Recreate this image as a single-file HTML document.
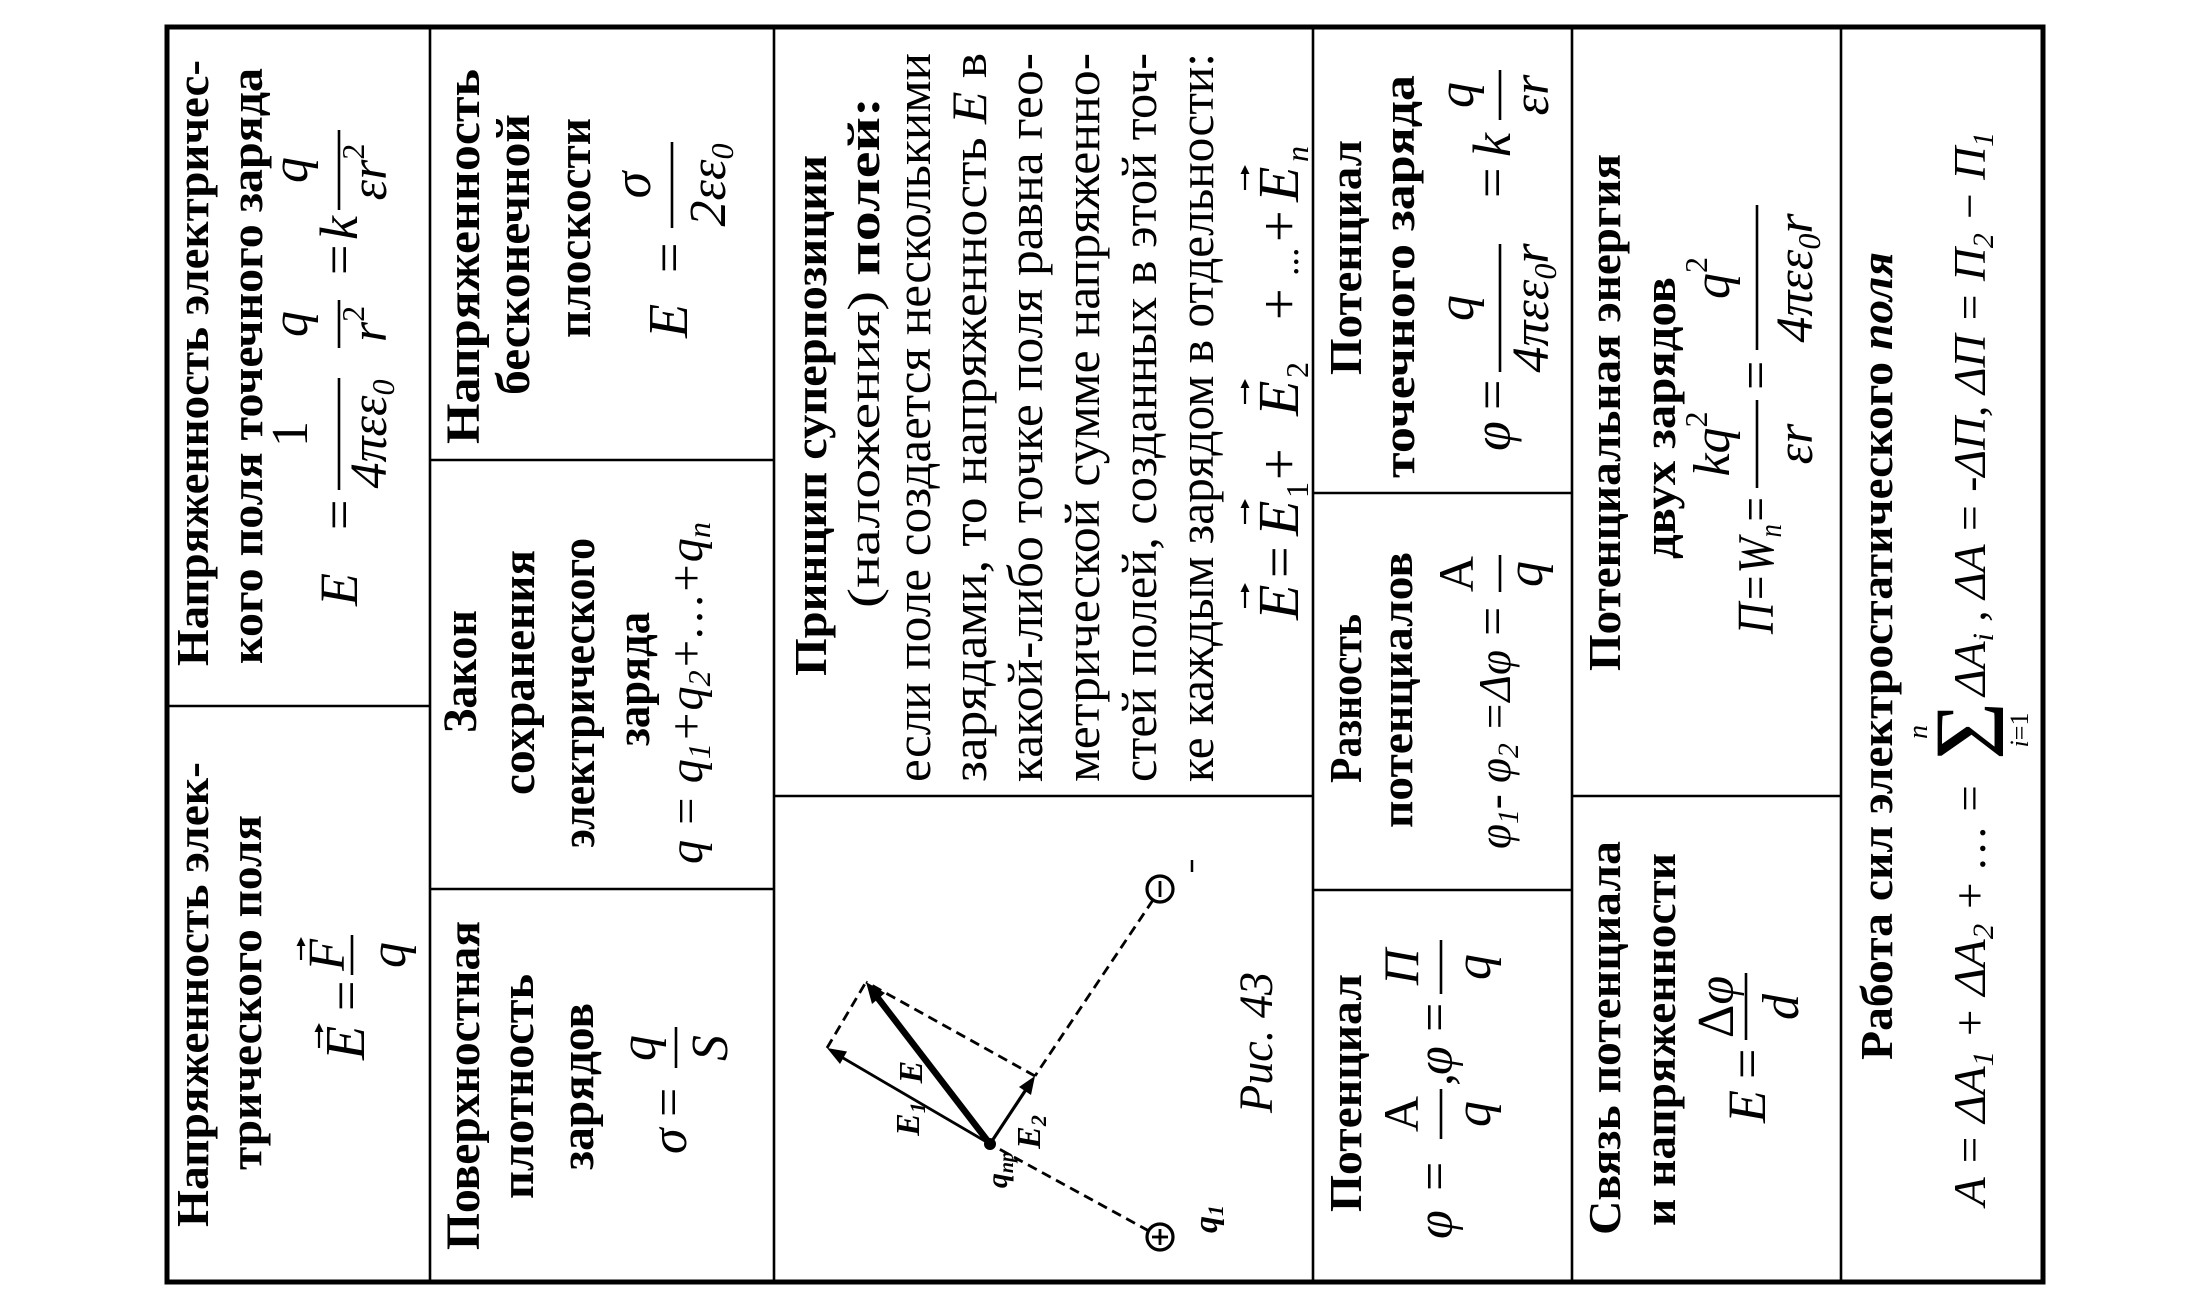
<!DOCTYPE html>
<html>
<head>
<meta charset="utf-8">
<style>
html,body{margin:0;padding:0;background:#fff;}
svg{display:block;}
svg text{font-family:"Liberation Serif","DejaVu Serif",serif;}
</style>
</head>
<body>
<svg width="2200" height="1300" viewBox="0 0 2200 1300" xmlns="http://www.w3.org/2000/svg">
<rect width="2200" height="1300" fill="#fff"/>

<!-- table grid -->
<rect x="167" y="27" width="1876" height="1255" fill="none" stroke="#000" stroke-width="5"/>
<g stroke="#000" stroke-width="2.6">
<line x1="430" y1="27" x2="430" y2="1282"/>
<line x1="774" y1="27" x2="774" y2="1282"/>
<line x1="1313" y1="27" x2="1313" y2="1282"/>
<line x1="1572" y1="27" x2="1572" y2="1282"/>
<line x1="1841" y1="27" x2="1841" y2="1282"/>
<line x1="167" y1="706" x2="430" y2="706"/>
<line x1="430" y1="460" x2="774" y2="460"/>
<line x1="430" y1="889" x2="774" y2="889"/>
<line x1="774" y1="796" x2="1313" y2="796"/>
<line x1="1313" y1="493" x2="1572" y2="493"/>
<line x1="1313" y1="890" x2="1572" y2="890"/>
<line x1="1572" y1="796" x2="1841" y2="796"/>
</g>

<!-- figure (image coords) -->
<g stroke="#000" fill="none">
<g stroke-width="2.8" stroke-dasharray="10 6">
<line x1="1149" y1="1231" x2="990" y2="1144"/>
<line x1="1153" y1="900" x2="1035" y2="1076"/>
<line x1="1035" y1="1076" x2="866" y2="982"/>
<line x1="827" y1="1048" x2="866" y2="982"/>
</g>
<line x1="990" y1="1144" x2="838" y2="1055" stroke-width="2.8"/>
<line x1="990" y1="1144" x2="874" y2="993" stroke-width="6.5"/>
<line x1="990" y1="1144" x2="1029" y2="1085" stroke-width="3.2"/>
<circle cx="1160" cy="1237" r="13" stroke-width="3.2"/>
<line x1="1152" y1="1237" x2="1168" y2="1237" stroke-width="2.8"/>
<line x1="1160" y1="1229" x2="1160" y2="1245" stroke-width="2.8"/>
<circle cx="1160" cy="889" r="13" stroke-width="3.2"/>
<line x1="1160" y1="881" x2="1160" y2="897" stroke-width="2.8"/>
<line x1="1192" y1="860" x2="1192" y2="872" stroke-width="2.5"/>
</g>
<g fill="#000">
<circle cx="990" cy="1144" r="6"/>
<polygon points="827,1048 847,1051.5 840,1064"/>
<polygon points="866,982 885,993 872,1004"/>
<polygon points="1035,1076 1019,1087 1031,1095"/>
</g>

<!-- rotated content: u along text, v across -->
<g transform="translate(167,1282) rotate(-90)" fill="#000">

<!-- Column 1 top -->
<text x="616" y="41" font-size="46" font-weight="bold" textLength="606" lengthAdjust="spacingAndGlyphs">Напряженность электричес-</text>
<text x="618" y="95" font-size="46" font-weight="bold" textLength="596" lengthAdjust="spacingAndGlyphs">кого поля точечного заряда</text>
<text x="676" y="190" font-size="54" font-style="italic">E</text>
<text x="752" y="190" font-size="54">=</text>
<line x1="792" y1="172" x2="904" y2="172" stroke="#000" stroke-width="2.6"/>
<text x="848" y="140" font-size="52" text-anchor="middle">1</text>
<text x="848" y="219" font-size="52" font-style="italic" text-anchor="middle">4πεε<tspan font-size="32" dy="8">0</tspan></text>
<line x1="934" y1="172" x2="982" y2="172" stroke="#000" stroke-width="2.6"/>
<text x="958" y="140" font-size="52" font-style="italic" text-anchor="middle">q</text>
<text x="958" y="219" font-size="52" font-style="italic" text-anchor="middle">r<tspan font-size="32" font-style="normal" dy="-22">2</tspan></text>
<text x="1007" y="190" font-size="54">=</text>
<text x="1042" y="190" font-size="54" font-style="italic">k</text>
<line x1="1072" y1="172" x2="1152" y2="172" stroke="#000" stroke-width="2.6"/>
<text x="1112" y="140" font-size="52" font-style="italic" text-anchor="middle">q</text>
<text x="1110" y="219" font-size="52" font-style="italic" text-anchor="middle">εr<tspan font-size="32" font-style="normal" dy="-22">2</tspan></text>

<!-- Column 1 bottom -->
<text x="55" y="41" font-size="46" font-weight="bold" textLength="465" lengthAdjust="spacingAndGlyphs">Напряженность элек-</text>
<text x="112" y="94" font-size="46" font-weight="bold" textLength="355" lengthAdjust="spacingAndGlyphs">трического поля</text>
<text x="222" y="197" font-size="56" font-style="italic">E</text>
<line x1="234" y1="152" x2="254" y2="152" stroke="#000" stroke-width="2.2"/>
<polygon points="259,152 250,147.5 250,156.5"/>
<text x="271" y="197" font-size="54">=</text>
<line x1="307" y1="185" x2="347" y2="185" stroke="#000" stroke-width="2.6"/>
<text x="327" y="177" font-size="52" font-style="italic" text-anchor="middle">F</text>
<line x1="322" y1="134" x2="340" y2="134" stroke="#000" stroke-width="2.2"/>
<polygon points="345,134 336,129.5 336,138.5"/>
<text x="327" y="238" font-size="52" font-style="italic" text-anchor="middle">q</text>

<!-- Column 2 top -->
<text x="838" y="312" font-size="48" font-weight="bold" textLength="375" lengthAdjust="spacingAndGlyphs">Напряженность</text>
<text x="887" y="362" font-size="48" font-weight="bold" textLength="281" lengthAdjust="spacingAndGlyphs">бесконечной</text>
<text x="944" y="423" font-size="48" font-weight="bold" textLength="220" lengthAdjust="spacingAndGlyphs">плоскости</text>
<text x="944" y="520" font-size="56" font-style="italic">E</text>
<text x="1009" y="520" font-size="54">=</text>
<line x1="1054" y1="505" x2="1140" y2="505" stroke="#000" stroke-width="2.6"/>
<text x="1097" y="483" font-size="54" font-style="italic" text-anchor="middle">σ</text>
<text x="1097" y="558" font-size="52" font-style="italic" text-anchor="middle">2εε<tspan font-size="32" dy="8">0</tspan></text>

<!-- Column 2 middle -->
<text x="549" y="309" font-size="48" font-weight="bold" textLength="123" lengthAdjust="spacingAndGlyphs">Закон</text>
<text x="487" y="367" font-size="48" font-weight="bold" textLength="245" lengthAdjust="spacingAndGlyphs">сохранения</text>
<text x="434" y="427" font-size="48" font-weight="bold" textLength="310" lengthAdjust="spacingAndGlyphs">электрического</text>
<text x="536" y="482" font-size="48" font-weight="bold" textLength="134" lengthAdjust="spacingAndGlyphs">заряда</text>
<text x="418" y="535" font-size="48" font-style="italic" textLength="342" lengthAdjust="spacingAndGlyphs">q = q<tspan dy="8" font-size="32">1</tspan><tspan dy="-8">+q</tspan><tspan dy="8" font-size="32">2</tspan><tspan dy="-8">+…+q</tspan><tspan dy="8" font-size="32">n</tspan></text>

<!-- Column 2 bottom -->
<text x="32" y="312" font-size="48" font-weight="bold" textLength="329" lengthAdjust="spacingAndGlyphs">Поверхностная</text>
<text x="83" y="366" font-size="48" font-weight="bold" textLength="225" lengthAdjust="spacingAndGlyphs">плотность</text>
<text x="112" y="426" font-size="48" font-weight="bold" textLength="167" lengthAdjust="spacingAndGlyphs">зарядов</text>
<text x="128" y="519" font-size="52" font-style="italic">σ</text>
<text x="165" y="519" font-size="52">=</text>
<line x1="214" y1="509" x2="255" y2="509" stroke="#000" stroke-width="2.6"/>
<text x="234" y="488" font-size="52" font-style="italic" text-anchor="middle">q</text>
<text x="234" y="560" font-size="52" font-style="italic" text-anchor="middle">S</text>

<!-- Column 3 top -->
<text x="606" y="659" font-size="46" font-weight="bold" textLength="521" lengthAdjust="spacingAndGlyphs">Принцип суперпозиции</text>
<text x="674" y="712" font-size="46" textLength="511" lengthAdjust="spacingAndGlyphs">(наложения) <tspan font-weight="bold">полей:</tspan></text>
<text x="500" y="763" font-size="50" textLength="729" lengthAdjust="spacingAndGlyphs">если поле создается несколькими</text>
<text x="500" y="819" font-size="50" textLength="729" lengthAdjust="spacingAndGlyphs">зарядами, то напряженность <tspan font-style="italic">E</tspan> в</text>
<text x="500" y="875" font-size="50" textLength="729" lengthAdjust="spacingAndGlyphs">какой-либо точке поля равна гео-</text>
<text x="500" y="932" font-size="50" textLength="729" lengthAdjust="spacingAndGlyphs">метрической сумме напряженно-</text>
<text x="500" y="989" font-size="50" textLength="729" lengthAdjust="spacingAndGlyphs">стей полей, созданных в этой точ-</text>
<text x="500" y="1046" font-size="50" textLength="729" lengthAdjust="spacingAndGlyphs">ке каждым зарядом в отдельности:</text>

<text x="662" y="1131" font-size="58" font-style="italic">E</text>
<line x1="674" y1="1078" x2="694" y2="1078" stroke="#000" stroke-width="2.2"/>
<polygon points="699,1078 690,1073.5 690,1082.5"/>
<text x="704" y="1131" font-size="56">=</text>
<text x="746" y="1131" font-size="58" font-style="italic">E</text>
<text x="784" y="1141" font-size="32">1</text>
<line x1="758" y1="1078" x2="778" y2="1078" stroke="#000" stroke-width="2.2"/>
<polygon points="783,1078 774,1073.5 774,1082.5"/>
<text x="802" y="1131" font-size="56">+</text>
<text x="866" y="1131" font-size="58" font-style="italic">E</text>
<text x="904" y="1141" font-size="32">2</text>
<line x1="878" y1="1078" x2="898" y2="1078" stroke="#000" stroke-width="2.2"/>
<polygon points="903,1078 894,1073.5 894,1082.5"/>
<text x="962" y="1131" font-size="56">+</text>
<text x="1006" y="1131" font-size="38">...</text>
<text x="1040" y="1131" font-size="56">+</text>
<text x="1080" y="1131" font-size="58" font-style="italic">E</text>
<text x="1120" y="1141" font-size="32" font-style="italic">n</text>
<line x1="1092" y1="1078" x2="1112" y2="1078" stroke="#000" stroke-width="2.2"/>
<polygon points="1117,1078 1108,1073.5 1108,1082.5"/>

<!-- figure labels -->
<text x="169" y="1105" font-size="48" font-style="italic" textLength="141" lengthAdjust="spacingAndGlyphs">Рис. 43</text>
<text x="163" y="752" font-size="34" font-weight="bold" font-style="italic" text-anchor="middle">E<tspan font-size="22" dy="6">1</tspan></text>
<text x="210" y="755" font-size="34" font-weight="bold" font-style="italic" text-anchor="middle">E</text>
<text x="150" y="873" font-size="34" font-weight="bold" font-style="italic" text-anchor="middle">E<tspan font-size="22" dy="6">2</tspan></text>
<text x="112" y="840" font-size="30" font-weight="bold" font-style="italic" text-anchor="middle">q<tspan font-size="20" dy="6">пр</tspan></text>
<text x="63" y="1050" font-size="34" font-weight="bold" font-style="italic" text-anchor="middle">q<tspan font-size="22" dy="6">1</tspan></text>

<!-- Column 4 top -->
<text x="907" y="1194" font-size="46" font-weight="bold" textLength="235" lengthAdjust="spacingAndGlyphs">Потенциал</text>
<text x="804" y="1247" font-size="46" font-weight="bold" textLength="403" lengthAdjust="spacingAndGlyphs">точечного заряда</text>
<text x="831" y="1343" font-size="54" font-style="italic">φ</text>
<text x="872" y="1343" font-size="54">=</text>
<line x1="910" y1="1333" x2="1038" y2="1333" stroke="#000" stroke-width="2.6"/>
<text x="974" y="1306" font-size="52" font-style="italic" text-anchor="middle">q</text>
<text x="974" y="1381" font-size="52" font-style="italic" text-anchor="middle">4πεε<tspan font-size="32" dy="8">0</tspan><tspan dy="-8">r</tspan></text>
<text x="1084" y="1343" font-size="54">=</text>
<text x="1125" y="1343" font-size="54" font-style="italic">k</text>
<line x1="1162" y1="1333" x2="1212" y2="1333" stroke="#000" stroke-width="2.6"/>
<text x="1187" y="1306" font-size="52" font-style="italic" text-anchor="middle">q</text>
<text x="1187" y="1381" font-size="52" font-style="italic" text-anchor="middle">εr</text>

<!-- Column 4 middle -->
<text x="499" y="1194" font-size="46" font-weight="bold" textLength="169" lengthAdjust="spacingAndGlyphs">Разность</text>
<text x="454" y="1245" font-size="46" font-weight="bold" textLength="276" lengthAdjust="spacingAndGlyphs">потенциалов</text>
<text x="433" y="1343" font-size="46" font-style="italic" textLength="199" lengthAdjust="spacingAndGlyphs">φ<tspan dy="8" font-size="30">1</tspan><tspan dy="-8">- φ</tspan><tspan dy="8" font-size="30">2</tspan><tspan dy="-8"> =Δφ</tspan></text>
<text x="646" y="1343" font-size="52">=</text>
<line x1="690" y1="1333" x2="727" y2="1333" stroke="#000" stroke-width="2.6"/>
<text x="708" y="1306" font-size="50" text-anchor="middle">A</text>
<text x="708" y="1375" font-size="52" font-style="italic" text-anchor="middle">q</text>

<!-- Column 4 bottom -->
<text x="70" y="1194" font-size="46" font-weight="bold" textLength="238" lengthAdjust="spacingAndGlyphs">Потенциал</text>
<text x="43" y="1285" font-size="52" font-style="italic">φ</text>
<text x="91" y="1285" font-size="52">=</text>
<line x1="143" y1="1274" x2="193" y2="1274" stroke="#000" stroke-width="2.6"/>
<text x="168" y="1251" font-size="50" text-anchor="middle">A</text>
<text x="168" y="1323" font-size="52" font-style="italic" text-anchor="middle">q</text>
<text x="196" y="1285" font-size="52">,</text>
<text x="207" y="1285" font-size="52" font-style="italic">φ</text>
<text x="250" y="1285" font-size="52">=</text>
<line x1="288" y1="1274" x2="342" y2="1274" stroke="#000" stroke-width="2.6"/>
<text x="315" y="1251" font-size="50" font-style="italic" text-anchor="middle">П</text>
<text x="315" y="1323" font-size="52" font-style="italic" text-anchor="middle">q</text>

<!-- Column 5 top -->
<text x="611" y="1453" font-size="46" font-weight="bold" textLength="517" lengthAdjust="spacingAndGlyphs">Потенциальная энергия</text>
<text x="723" y="1508" font-size="46" font-weight="bold" textLength="282" lengthAdjust="spacingAndGlyphs">двух зарядов</text>
<text x="648" y="1606" font-size="52" font-style="italic" textLength="139" lengthAdjust="spacingAndGlyphs">П=W<tspan font-size="32" dy="8">п</tspan><tspan dy="-8">=</tspan></text>
<line x1="794" y1="1590" x2="882" y2="1590" stroke="#000" stroke-width="2.6"/>
<text x="838" y="1562" font-size="52" font-style="italic" text-anchor="middle">kq<tspan font-size="32" font-style="normal" dy="-22">2</tspan></text>
<text x="838" y="1645" font-size="52" font-style="italic" text-anchor="middle">εr</text>
<text x="892" y="1606" font-size="52">=</text>
<line x1="932" y1="1590" x2="1077" y2="1590" stroke="#000" stroke-width="2.6"/>
<text x="1004" y="1562" font-size="52" font-style="italic" text-anchor="middle">q<tspan font-size="32" font-style="normal" dy="-22">2</tspan></text>
<text x="1004" y="1645" font-size="52" font-style="italic" text-anchor="middle">4πεε<tspan font-size="32" dy="8">0</tspan><tspan dy="-8">r</tspan></text>

<!-- Column 5 bottom -->
<text x="47" y="1453" font-size="46" font-weight="bold" textLength="394" lengthAdjust="spacingAndGlyphs">Связь потенциала</text>
<text x="56" y="1508" font-size="46" font-weight="bold" textLength="373" lengthAdjust="spacingAndGlyphs">и напряженности</text>
<text x="159" y="1598" font-size="54" font-style="italic">E</text>
<text x="203" y="1598" font-size="54">=</text>
<line x1="242" y1="1579" x2="309" y2="1579" stroke="#000" stroke-width="2.6"/>
<text x="275" y="1566" font-size="52" text-anchor="middle">Δ<tspan font-style="italic">φ</tspan></text>
<text x="275" y="1631" font-size="52" font-style="italic" text-anchor="middle">d</text>

<!-- Column 6 -->
<text x="222" y="1725" font-size="46" font-weight="bold" textLength="808" lengthAdjust="spacingAndGlyphs">Работа сил электростатического <tspan font-style="italic">поля</tspan></text>
<text x="76" y="1818" font-size="46" font-style="italic" textLength="423" lengthAdjust="spacingAndGlyphs">A = ΔA<tspan font-size="30" dy="8">1</tspan><tspan dy="-8"> + ΔA</tspan><tspan font-size="30" dy="8">2</tspan><tspan dy="-8"> + … =</tspan></text>
<text x="522" y="1836" font-size="100">Σ</text>
<text x="550" y="1760" font-size="28" font-style="italic" text-anchor="middle">n</text>
<text x="552" y="1861" font-size="26" text-anchor="middle"><tspan font-style="italic">i</tspan>=1</text>
<text x="586" y="1818" font-size="46" font-style="italic" textLength="564" lengthAdjust="spacingAndGlyphs">ΔA<tspan font-size="30" dy="8">i</tspan><tspan dy="-8"> , ΔA = -ΔП, ΔП = П</tspan><tspan font-size="30" dy="8">2</tspan><tspan dy="-8"> − П</tspan><tspan font-size="30" dy="8">1</tspan></text>

</g>
</svg>
</body>
</html>
